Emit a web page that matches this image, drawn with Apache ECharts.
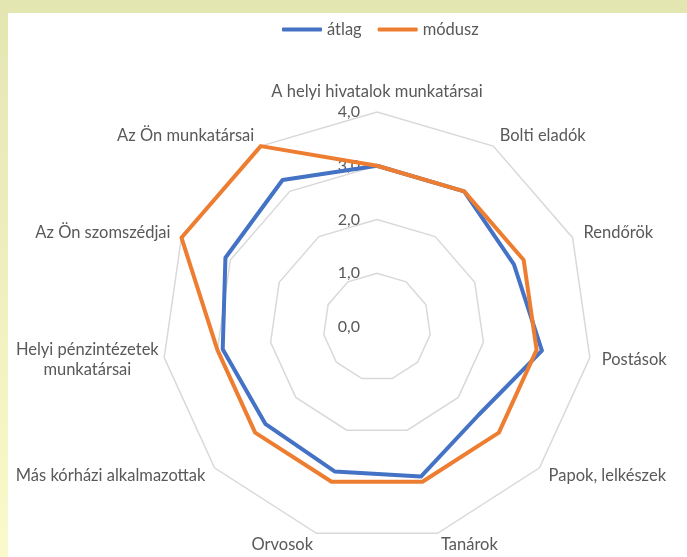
<!DOCTYPE html>
<html>
<head>
<meta charset="utf-8">
<script src="https://cdn.jsdelivr.net/npm/echarts@6/dist/echarts.min.js"></script>
<style>
  html, body { margin: 0; padding: 0; }
  #main { width: 687px; height: 557px; }
</style>
</head>
<body>
<div id="main"></div>
<script>
  // indikátorok (óramutató járása szerint, felülről)
  var categories = [
    'A helyi hivatalok munkatársai',
    'Bolti eladók',
    'Rendőrök',
    'Postások',
    'Papok, lelkészek',
    'Tanárok',
    'Orvosok',
    'Más kórházi alkalmazottak',
    'Helyi pénzintézetek\nmunkatársai',
    'Az Ön szomszédjai',
    'Az Ön munkatársai'
  ]
  var atlag = [3.0, 3.0, 2.8, 3.1, 2.5, 2.9, 2.8, 2.75, 2.9, 3.1, 3.25]
  var modusz = [3.0, 3.0, 3.0, 3.0, 3.0, 3.0, 3.0, 3.0, 3.0, 4.0, 4.0]
  var axisMin = 0
  var axisMax = 4

  var font = 'Lato'
  var textColor = '#595959'

  // az echarts radar az óramutatóval ellentétesen halad, ezért az első után megfordítjuk
  function cw(arr) {
    return [arr[0]].concat(arr.slice(1).reverse())
  }

  var chart = echarts.init(document.getElementById('main'))

  var indicators = cw(categories).map(function (name, i) {
    var ind = { name: name, min: axisMin, max: axisMax }
    if (i === 0) {
      ind.axisLabel = { show: true }
    }
    return ind
  })

  var option = {
    backgroundColor: {
      type: 'linear', x: 0, y: 0, x2: 0, y2: 1,
      colorStops: [
        { offset: 0, color: '#e4e6b2' },
        { offset: 1, color: '#faf9cb' }
      ]
    },
    graphic: [{
      type: 'rect',
      silent: true,
      z: -10,
      shape: { x: 8, y: 13, width: 700, height: 560 },
      style: { fill: '#ffffff' }
    }],
    color: ['#4472c4', '#ed7d31'],
    legend: {
      top: 16,
      left: 277,
      icon: 'roundRect',
      itemWidth: 40,
      itemHeight: 4,
      itemGap: 16,
      textStyle: { fontFamily: font, fontSize: 16.5, color: textColor },
      data: ['átlag', 'módusz']
    },
    radar: {
      center: [377, 327],
      radius: 215,
      startAngle: 90,
      shape: 'polygon',
      splitNumber: 4,
      axisName: {
        color: textColor,
        fontFamily: font,
        fontSize: 16.5,
        formatter: function (v) {
          if (v.indexOf('\n') < 0) return v
          return v.split('\n').map(function (s) { return '{c|' + s + '}' }).join('\n')
        },
        rich: {
          c: { width: 130, align: 'center', fontFamily: font, fontSize: 16.5, color: textColor, lineHeight: 20 }
        }
      },
      nameGap: 12,
      axisLine: { show: false },
      axisTick: { show: false },
      splitArea: { show: false },
      splitLine: { lineStyle: { color: '#d9d9d9', width: 1.5 } },
      axisLabel: {
        show: false,
        color: textColor,
        fontFamily: font,
        fontSize: 16,
        margin: 17,
        formatter: function (v) { return v.toFixed(1).replace('.', ',') }
      },
      indicator: indicators
    },
    series: [{
      type: 'radar',
      symbol: 'none',
      data: [
        { name: 'átlag', value: cw(atlag), lineStyle: { width: 4, color: '#4472c4' }, itemStyle: { color: '#4472c4' } },
        { name: 'módusz', value: cw(modusz), lineStyle: { width: 4, color: '#ed7d31' }, itemStyle: { color: '#ed7d31' } }
      ]
    }]
  }

  chart.setOption(option)
</script>
</body>
</html>
